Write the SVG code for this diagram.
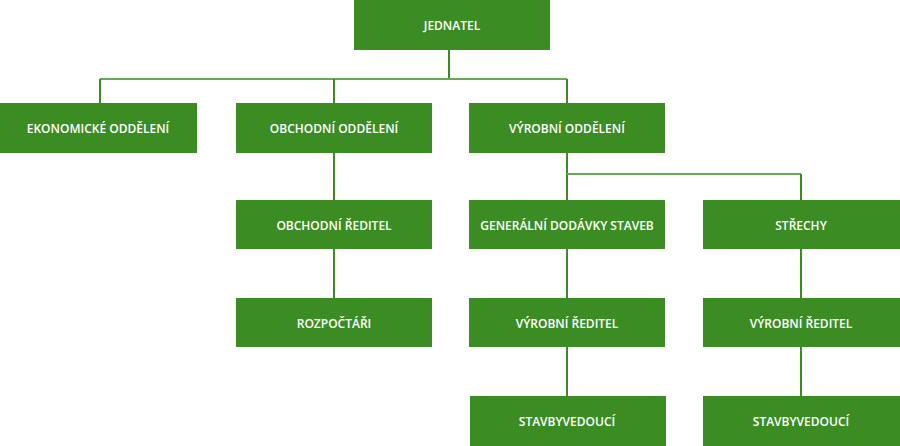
<svg xmlns="http://www.w3.org/2000/svg" width="900" height="446" viewBox="0 0 900 446">
<style>
.box{fill:#3b8d23}
.t{fill:#ffffff;font-family:"Open Sans","Liberation Sans",sans-serif;font-size:12px;font-weight:600;text-anchor:middle;dominant-baseline:central}
.v{stroke:#3b8d23;stroke-width:2;fill:none}
.h{stroke:#66aa52;stroke-width:2;fill:none}
</style>
<rect width="900" height="446" fill="#ffffff"/>
<g id="connectors">
<path class="v" d="M449 50V79"/>
<path class="h" d="M100 79H567"/>
<path class="v" d="M100 79V103M334 79V103M567 79V103"/>
<path class="v" d="M334 153V200M334 249V298"/>
<path class="v" d="M567 153V200M567 249V298M567 347V396"/>
<path class="h" d="M567 174H801"/>
<path class="v" d="M801 174V200M801 249V298M801 347V396"/>
</g>
<g id="jednatel"><rect class="box" x="354" y="0" width="196" height="50"/><text class="t" x="452" y="25">JEDNATEL</text></g>
<g id="ekonomicke"><rect class="box" x="0" y="103" width="197" height="50"/><text class="t" x="98" y="128">EKONOMICKÉ ODDĚLENÍ</text></g>
<g id="obchodni-oddeleni"><rect class="box" x="236" y="103" width="196" height="50"/><text class="t" x="334" y="128">OBCHODNÍ ODDĚLENÍ</text></g>
<g id="vyrobni-oddeleni"><rect class="box" x="469" y="103" width="196" height="50"/><text class="t" x="567" y="128">VÝROBNÍ ODDĚLENÍ</text></g>
<g id="obchodni-reditel"><rect class="box" x="236" y="200" width="196" height="49"/><text class="t" x="334" y="225">OBCHODNÍ ŘEDITEL</text></g>
<g id="generalni"><rect class="box" x="469" y="200" width="196" height="49"/><text class="t" x="567" y="225">GENERÁLNÍ DODÁVKY STAVEB</text></g>
<g id="strechy"><rect class="box" x="703" y="200" width="197" height="49"/><text class="t" x="801" y="225">STŘECHY</text></g>
<g id="rozpoctari"><rect class="box" x="236" y="298" width="196" height="49"/><text class="t" x="334" y="323">ROZPOČTÁŘI</text></g>
<g id="vyrobni-reditel-1"><rect class="box" x="469" y="298" width="196" height="49"/><text class="t" x="567" y="323">VÝROBNÍ ŘEDITEL</text></g>
<g id="vyrobni-reditel-2"><rect class="box" x="703" y="298" width="197" height="49"/><text class="t" x="801" y="323">VÝROBNÍ ŘEDITEL</text></g>
<g id="stavbyvedouci-1"><rect class="box" x="470" y="396" width="196" height="50"/><text class="t" x="567" y="421">STAVBYVEDOUCÍ</text></g>
<g id="stavbyvedouci-2"><rect class="box" x="703" y="396" width="197" height="50"/><text class="t" x="801" y="421">STAVBYVEDOUCÍ</text></g>
</svg>
